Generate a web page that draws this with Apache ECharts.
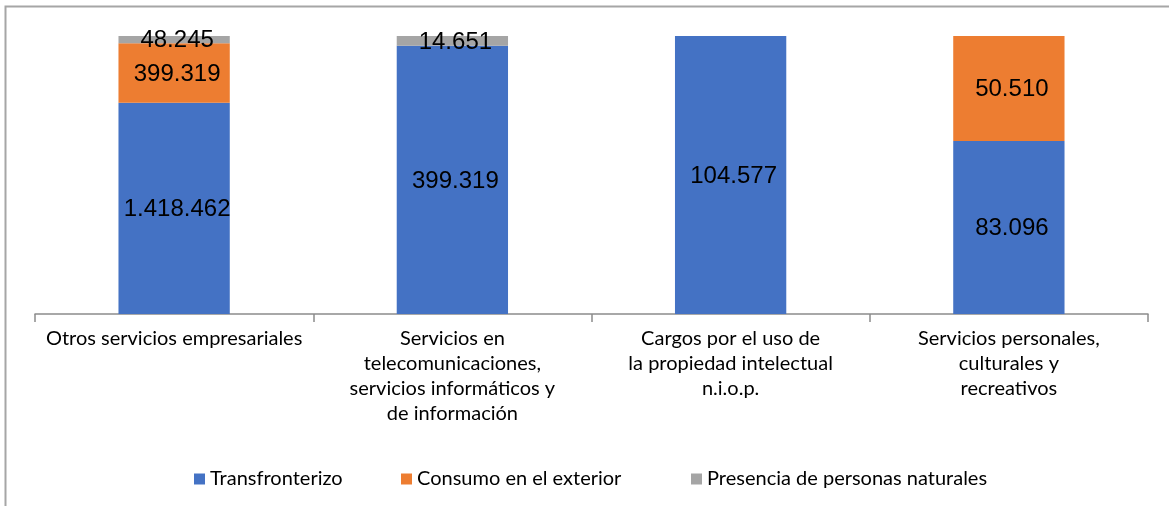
<!DOCTYPE html>
<html>
<head>
<meta charset="utf-8">
<script src="https://cdn.jsdelivr.net/npm/echarts@6/dist/echarts.min.js"></script>
<style>
html, body { margin: 0; padding: 0; background: #fff; }
#chart { width: 1169px; height: 506px; }
</style>
</head>
<body>
<div id="chart"></div>
<script>
// categorias (con saltos de linea como en el original)
var categories = [
	'Otros servicios empresariales',
	'Servicios en\ntelecomunicaciones,\nservicios informáticos y\nde información',
	'Cargos por el uso de\nla propiedad intelectual\nn.i.o.p.',
	'Servicios personales,\nculturales y\nrecreativos'
]
var seriesNames = ['Transfronterizo', 'Consumo en el exterior', 'Presencia de personas naturales']
var transfronterizo = [1418462, 399319, 104577, 83096]
var consumoExterior = [399319, 0, 0, 50510]
var presencia = [48245, 14651, 0, 0]
var colors = ['#4472C4', '#ED7D31', '#A5A5A5']

var raw = [transfronterizo, consumoExterior, presencia]
var totals = categories.map(function(c, i) {
	return transfronterizo[i] + consumoExterior[i] + presencia[i]
})
// formato con punto de miles
function fmt(v) {
	return String(v).replace(/\B(?=(\d{3})+(?!\d))/g, '.')
}

var myChart = echarts.init(document.getElementById('chart'))
var series = raw.map(function(arr, s) {
	return {
		name: seriesNames[s],
		type: 'bar',
		stack: 'total',
		barWidth: '40%',
		itemStyle: { color: colors[s] },
		label: {
			show: true,
			position: 'inside',
			offset: [3, 1],
			color: '#000',
			fontFamily: 'Liberation Sans, Arial, sans-serif',
			fontSize: 24,
			formatter: function(p) {
				var v = raw[p.seriesIndex][p.dataIndex]
				return v > 0 ? fmt(v) : ''
			}
		},
		data: arr.map(function(v, i) { return v / totals[i] * 100 })
	}
})

function legendAt(name, left) {
	return {
		data: [name],
		left: left,
		top: 464,
		icon: 'rect',
		itemWidth: 11,
		itemHeight: 11,
		itemGap: 6,
		textStyle: { fontFamily: 'Lato, sans-serif', fontSize: 20, color: '#000' }
	}
}

myChart.setOption({
	animation: false,
	graphic: [{
		type: 'rect',
		shape: { x: 5.5, y: 6.5, width: 1300, height: 600 },
		style: { fill: 'none', stroke: '#a6a6a6', lineWidth: 2 },
		silent: true
	}],
	legend: [
		legendAt(seriesNames[0], 189),
		legendAt(seriesNames[1], 396),
		legendAt(seriesNames[2], 686)
	],
	grid: { left: 35, top: 36, width: 1113, height: 278 },
	xAxis: {
		type: 'category',
		data: categories,
		axisLine: { lineStyle: { color: '#8c8c8c', width: 1.5 } },
		axisTick: { show: true, length: 8, lineStyle: { color: '#8c8c8c', width: 1.5 } },
		axisLabel: {
			interval: 0,
			margin: 12,
			color: '#000',
			fontFamily: 'Lato, sans-serif',
			fontSize: 20,
			lineHeight: 25
		}
	},
	yAxis: {
		type: 'value',
		min: 0,
		max: 100,
		show: false,
		splitLine: { show: false }
	},
	series: series
})
</script>
</body>
</html>
